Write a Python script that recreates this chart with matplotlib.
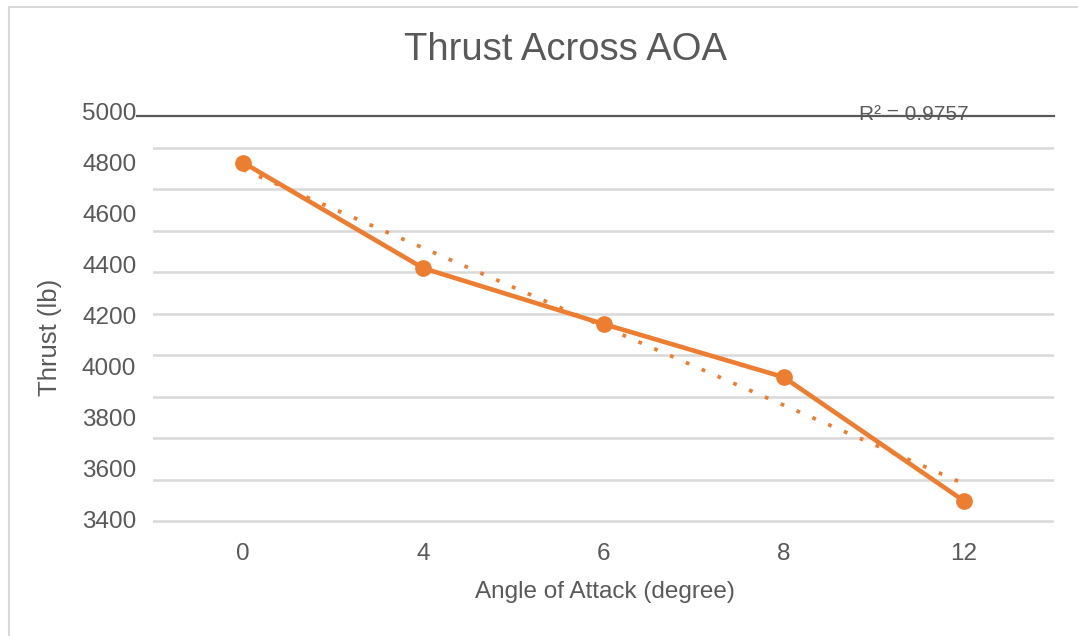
import numpy as np
import matplotlib
matplotlib.use("Agg")
import matplotlib.pyplot as plt
from matplotlib.patches import Rectangle

plt.rcParams['font.family'] = ['Liberation Sans', 'DejaVu Sans']

# thrust readings per angle of attack
aoa_labels = ['0', '4', '6', '8', '12']
thrust = [4800, 4385, 4166, 3957, 3471]
y_ticks = [3400, 3600, 3800, 4000, 4200, 4400, 4600, 4800, 5000]

TEXT = '#595959'
ORANGE = '#ED7D31'
GRID = '#D9D9D9'

W, H = 1078, 636
fig = plt.figure(figsize=(W / 100, H / 100), dpi=100)

# plot area in pixel terms
left, right, top, bottom = 153, 1054, 105, 525
ax = fig.add_axes([left / W, 1 - bottom / H, (right - left) / W, (bottom - top) / H])

# value scale: 3400 sits at y=519 px, 0.2546 px per lb
px_per = 0.2546
def val(p):
    return 3400 + (519 - p) / px_per

ax.set_ylim(val(bottom), val(top))
ax.set_xlim(-0.5, len(aoa_labels) - 0.5)

# horizontal grid (evenly spaced bands)
for g in np.linspace(val(521), val(147.7), 10):
    ax.axhline(g, color=GRID, lw=1.8, zorder=0)
ax.axhline(val(115.7), xmin=(137 - left) / (right - left), xmax=1.0,
           color=TEXT, lw=1.6, clip_on=False, zorder=1)

x = np.arange(len(aoa_labels))
ax.plot(x, thrust, color=ORANGE, lw=3.3, marker='o', ms=11,
        solid_capstyle='round', zorder=3)

# linear trendline on category index (1..n)
xi = x + 1
coef = np.polyfit(xi, thrust, 1)
fit = np.polyval(coef, xi)
ss_res = np.sum((np.array(thrust) - fit) ** 2)
ss_tot = np.sum((np.array(thrust) - np.mean(thrust)) ** 2)
r2 = 1 - ss_res / ss_tot
ax.plot(x, fit, color=ORANGE, lw=2.7, linestyle=(0, (1, 3.6)),
        dash_capstyle='butt', zorder=2)

ax.set_yticks(y_ticks)
ax.set_yticklabels([str(v) for v in y_ticks])
ax.set_xticks(x)
ax.set_xticklabels(aoa_labels)
ax.tick_params(axis='y', length=0, pad=12, labelsize=17.5, labelcolor=TEXT)
ax.tick_params(axis='x', length=0, pad=13, labelsize=17.5, labelcolor=TEXT)
for s in ax.spines.values():
    s.set_visible(False)
ax.patch.set_alpha(0)

fig.text(914 / W, 1 - 114 / H, f'R² = {r2:.4f}', ha='center', va='center',
         fontsize=15, color=TEXT)
fig.text(565 / W, 1 - 50 / H, 'Thrust Across AOA', ha='center', va='center',
         fontsize=27.5, color=TEXT)
fig.text(605 / W, 1 - 592 / H, 'Angle of Attack (degree)', ha='center',
         va='center', fontsize=17.5, color=TEXT)
fig.text(50 / W, 1 - 337 / H, 'Thrust (lb)', ha='center', va='center',
         rotation=90, fontsize=18.5, color=TEXT)

# chart border (top and left edges visible)
fig.patches.append(Rectangle((9 / W, -0.1), 1.2, 1.1 - 7 / H,
                             transform=fig.transFigure, fill=False,
                             ec=GRID, lw=1.5))

fig.savefig('out.png', dpi=100)
